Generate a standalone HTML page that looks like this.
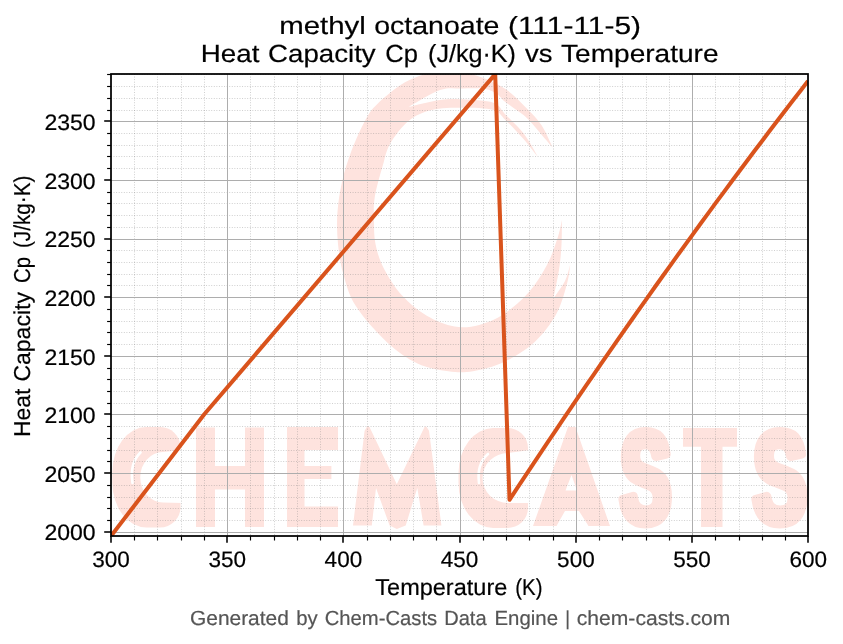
<!DOCTYPE html>
<html><head><meta charset="utf-8"><title>methyl octanoate Cp</title>
<style>html,body{margin:0;padding:0;background:#fff;width:843px;height:644px;overflow:hidden}svg{display:block;position:absolute;left:0;top:0;will-change:transform}text{font-family:"Liberation Sans",sans-serif}</style>
</head><body>
<svg width="843" height="644" viewBox="0 0 843 644" text-rendering="geometricPrecision">
<defs><clipPath id="ax"><rect x="111.0" y="74.0" width="697.0" height="462.0"/></clipPath></defs>
<filter id="soft" x="-5%" y="-5%" width="110%" height="110%"><feGaussianBlur stdDeviation="0.7"/></filter>
<g clip-path="url(#ax)"><g filter="url(#soft)">
<path d="M552.8,147.8 C550.9,144.0 545.8,131.6 541.4,125.0 C537.0,118.4 532.3,114.0 526.3,108.0 C520.3,102.0 513.6,94.4 505.4,89.0 C497.2,83.6 486.2,78.7 477.0,75.7 C467.8,72.7 457.3,71.6 450.0,71.0 C442.7,70.4 440.5,70.1 433.0,72.0 C425.5,73.9 414.3,77.0 405.0,82.3 C395.7,87.6 384.0,97.6 377.4,103.9 C370.8,110.2 369.7,112.2 365.4,120.0 C361.1,127.8 355.3,140.7 351.4,151.0 C347.5,161.3 344.3,171.7 342.0,182.0 C339.7,192.3 338.1,202.7 337.4,213.0 C336.7,223.3 337.0,233.6 338.0,244.0 C339.0,254.4 340.6,264.9 343.6,275.3 C346.6,285.7 348.8,295.2 356.0,306.3 C363.2,317.4 376.4,332.4 386.7,341.9 C396.9,351.4 407.2,358.6 417.5,363.5 C427.8,368.4 439.1,369.9 448.4,371.2 C457.6,372.5 463.8,372.7 473.0,371.2 C482.2,369.7 493.6,366.9 503.9,362.0 C514.2,357.1 526.0,349.9 534.7,341.9 C543.4,333.9 550.9,323.8 556.3,314.0 C561.7,304.2 564.8,291.5 567.1,283.3 C569.4,275.1 569.7,267.9 570.2,264.8 C569.3,267.5 567.8,275.4 565.0,281.0 C562.2,286.6 555.2,295.8 553.3,298.7 C554.2,293.9 557.6,278.9 559.0,270.0 C560.4,261.1 561.0,253.3 561.5,245.0 C562.0,236.7 561.8,224.2 561.9,220.0 C561.2,222.8 560.4,229.5 557.9,237.0 C555.4,244.5 552.0,255.6 547.1,264.8 C542.2,274.1 535.8,284.3 528.6,292.5 C521.4,300.7 512.1,308.6 503.9,314.0 C495.7,319.4 487.4,322.8 479.2,324.9 C471.0,327.0 463.2,328.0 454.5,326.5 C445.8,325.0 435.5,320.8 426.8,315.7 C418.1,310.6 409.3,303.6 402.1,295.6 C394.9,287.6 388.0,276.5 383.6,267.9 C379.2,259.3 377.1,251.8 375.5,244.0 C373.9,236.2 374.1,228.7 374.0,221.0 C373.9,213.3 373.3,206.7 374.7,197.6 C376.1,188.5 379.9,175.5 382.5,166.6 C385.1,157.7 385.7,151.6 390.0,144.0 C394.3,136.4 401.6,126.7 408.5,121.0 C415.4,115.3 422.7,112.2 431.7,110.0 C440.7,107.8 452.2,107.8 462.5,107.8 C472.8,107.8 486.2,108.0 493.4,110.0 C500.5,112.0 500.2,115.0 505.4,120.0 C510.6,125.0 518.9,133.7 524.4,140.0 C529.9,146.3 536.2,155.0 538.6,158.0 C536.2,154.1 529.9,141.7 524.4,134.5 C518.9,127.3 510.6,119.9 505.4,114.6 C500.2,109.3 500.5,105.3 493.4,102.8 C486.2,100.2 471.4,99.8 462.5,99.3 C453.6,98.8 449.0,98.7 440.0,100.0 C431.0,101.3 413.8,105.8 408.5,107.0 C413.8,104.2 431.0,93.1 440.0,90.0 C449.0,86.9 455.0,88.7 462.5,88.5 C470.0,88.3 479.2,88.1 485.0,89.0 C490.8,89.9 493.6,91.8 497.0,94.0 C500.4,96.2 500.5,98.1 505.4,102.0 C510.3,105.9 520.3,112.0 526.3,117.4 C532.3,122.8 537.0,129.4 541.4,134.5 C545.8,139.6 550.9,145.6 552.8,147.8Z" fill="#fee3de"/>
<path d="M146.4,427 L160.0,427 A20.5,20.1 0 0 1 180.5,447.1 L180.5,507.4 A20.5,20.1 0 0 1 160.0,527.5 L146.4,527.5 A34.1,45.2 0 0 1 112.3,482.3 L112.3,472.2 A34.1,45.2 0 0 1 146.4,427Z" fill="#fee3de"/><path d="M182.5,450 L162.8,452.0 A22.5,25.2 0 0 0 162.8,502.5 L182.5,503Z" fill="#fff"/>
<path d="M140.5,452.5 Q129.5,463 132.5,483" fill="none" stroke="#fff" stroke-width="2.6" stroke-linecap="round"/>
<path d="M196.0,427.6 L215.0,427.6 L215.0,527.0 L196.0,527.0ZM245.0,427.6 L264.0,427.6 L264.0,527.0 L245.0,527.0ZM214.0,466.0 L246.0,466.0 L246.0,489.5 L214.0,489.5Z" fill="#fee3de"/>
<path d="M287.0,427.0 L304.5,427.0 L304.5,527.0 L287.0,527.0ZM304.0,427.0 L338.0,427.0 L338.0,450.0 L304.0,450.0ZM304.0,466.0 L331.4,466.0 L331.4,479.0 L304.0,479.0ZM304.0,506.6 L338.0,506.6 L338.0,527.0 L304.0,527.0Z" fill="#fee3de"/>
<path d="M353.0,525.4 L364.6,430.7 L367.3,426.3 L369.5,427.0 L396.8,484.3 L424.5,427.0 L426.3,426.5 L429.0,430.7 L441.4,525.4 L423.6,525.4 L417.3,488.0 L405.7,525.4 L396.8,529.0 L389.6,525.4 L376.0,488.0 L371.8,525.4Z" fill="#fee3de"/>
<path d="M493.2,428 L507.1,428 A20.8,20.0 0 0 1 528.0,448.0 L528.0,508.0 A20.8,20.0 0 0 1 507.1,528 L493.2,528 A34.8,45.0 0 0 1 458.5,483.0 L458.5,473.0 A34.8,45.0 0 0 1 493.2,428Z" fill="#fee3de"/><path d="M530.0,450 L508.0,453.0 A25.5,25.0 0 0 0 508.0,503.0 L530.0,503Z" fill="#fff"/>
<path d="M488,454 Q476.5,464 479,483" fill="none" stroke="#fff" stroke-width="2.6" stroke-linecap="round"/>
<path d="M568.0,427.0 L575.5,427.0 L610.0,526.0 L588.5,526.0 L579.0,511.0 L565.0,511.0 L556.5,526.0 L533.0,526.0ZM571.5,475.0 L577.0,490.5 L565.5,490.5Z" fill="#fee3de" fill-rule="evenodd"/>
<path d="M667.5 496.8Q667.5 510.0 661.9 517.0Q656.3 524.0 645.5 524.0Q635.7 524.0 630.1 517.9Q624.5 511.8 622.9 499.3L633.3 496.3Q634.3 503.5 637.4 506.7Q640.4 509.9 645.8 509.9Q657.1 509.9 657.1 497.9Q657.1 494.1 655.8 491.6Q654.5 489.1 652.1 487.4Q649.8 485.8 643.1 483.4Q637.4 481.1 635.1 479.6Q632.9 478.2 631.1 476.3Q629.3 474.3 628.0 471.6Q626.7 468.8 626.0 465.1Q625.3 461.4 625.3 456.6Q625.3 444.5 630.5 438.0Q635.7 431.5 645.7 431.5Q655.2 431.5 660.0 436.7Q664.8 442.0 666.2 454.0L655.8 456.5Q655.0 450.7 652.5 447.8Q650.1 444.8 645.5 444.8Q635.7 444.8 635.7 455.6Q635.7 459.1 636.8 461.3Q637.8 463.5 639.8 465.1Q641.9 466.7 648.1 469.0Q655.5 471.8 658.6 474.1Q661.8 476.4 663.7 479.5Q665.5 482.6 666.5 486.9Q667.5 491.2 667.5 496.8Z" fill="#fee3de" stroke="#fee3de" stroke-width="9" stroke-linejoin="round"/>
<path d="M803.0 496.8Q803.0 510.0 797.1 517.0Q791.2 524.0 779.8 524.0Q769.4 524.0 763.5 517.9Q757.6 511.8 755.9 499.3L766.8 496.3Q768.0 503.5 771.2 506.7Q774.4 509.9 780.1 509.9Q792.0 509.9 792.0 497.9Q792.0 494.1 790.6 491.6Q789.3 489.1 786.8 487.4Q784.3 485.8 777.3 483.4Q771.2 481.1 768.8 479.6Q766.5 478.2 764.5 476.3Q762.6 474.3 761.3 471.6Q759.9 468.8 759.2 465.1Q758.4 461.4 758.4 456.6Q758.4 444.5 763.9 438.0Q769.5 431.5 780.0 431.5Q790.0 431.5 795.1 436.7Q800.1 442.0 801.6 454.0L790.6 456.5Q789.8 450.7 787.2 447.8Q784.6 444.8 779.7 444.8Q769.5 444.8 769.5 455.6Q769.5 459.1 770.5 461.3Q771.6 463.5 773.8 465.1Q775.9 466.7 782.5 469.0Q790.3 471.8 793.7 474.1Q797.0 476.4 799.0 479.5Q800.9 482.6 802.0 486.9Q803.0 491.2 803.0 496.8Z" fill="#fee3de" stroke="#fee3de" stroke-width="9" stroke-linejoin="round"/>
<path d="M683.0,428.0 L737.0,428.0 L737.0,446.8 L683.0,446.8ZM701.0,446.0 L722.5,446.0 L722.5,527.0 L701.0,527.0Z" fill="#fee3de"/>
</g></g>
<g stroke="#808080" stroke-opacity="0.4" stroke-width="0.97" stroke-dasharray="0.97 1.6" fill="none">
<line x1="134.50" y1="74.0" x2="134.50" y2="536.0"/>
<line x1="157.50" y1="74.0" x2="157.50" y2="536.0"/>
<line x1="181.50" y1="74.0" x2="181.50" y2="536.0"/>
<line x1="204.50" y1="74.0" x2="204.50" y2="536.0"/>
<line x1="250.50" y1="74.0" x2="250.50" y2="536.0"/>
<line x1="274.50" y1="74.0" x2="274.50" y2="536.0"/>
<line x1="297.50" y1="74.0" x2="297.50" y2="536.0"/>
<line x1="320.50" y1="74.0" x2="320.50" y2="536.0"/>
<line x1="367.50" y1="74.0" x2="367.50" y2="536.0"/>
<line x1="390.50" y1="74.0" x2="390.50" y2="536.0"/>
<line x1="413.50" y1="74.0" x2="413.50" y2="536.0"/>
<line x1="436.50" y1="74.0" x2="436.50" y2="536.0"/>
<line x1="483.50" y1="74.0" x2="483.50" y2="536.0"/>
<line x1="506.50" y1="74.0" x2="506.50" y2="536.0"/>
<line x1="529.50" y1="74.0" x2="529.50" y2="536.0"/>
<line x1="553.50" y1="74.0" x2="553.50" y2="536.0"/>
<line x1="599.50" y1="74.0" x2="599.50" y2="536.0"/>
<line x1="622.50" y1="74.0" x2="622.50" y2="536.0"/>
<line x1="646.50" y1="74.0" x2="646.50" y2="536.0"/>
<line x1="669.50" y1="74.0" x2="669.50" y2="536.0"/>
<line x1="715.50" y1="74.0" x2="715.50" y2="536.0"/>
<line x1="739.50" y1="74.0" x2="739.50" y2="536.0"/>
<line x1="762.50" y1="74.0" x2="762.50" y2="536.0"/>
<line x1="785.50" y1="74.0" x2="785.50" y2="536.0"/>
<line x1="111.0" y1="520.50" x2="808.0" y2="520.50"/>
<line x1="111.0" y1="508.50" x2="808.0" y2="508.50"/>
<line x1="111.0" y1="497.50" x2="808.0" y2="497.50"/>
<line x1="111.0" y1="485.50" x2="808.0" y2="485.50"/>
<line x1="111.0" y1="461.50" x2="808.0" y2="461.50"/>
<line x1="111.0" y1="450.50" x2="808.0" y2="450.50"/>
<line x1="111.0" y1="438.50" x2="808.0" y2="438.50"/>
<line x1="111.0" y1="426.50" x2="808.0" y2="426.50"/>
<line x1="111.0" y1="403.50" x2="808.0" y2="403.50"/>
<line x1="111.0" y1="391.50" x2="808.0" y2="391.50"/>
<line x1="111.0" y1="379.50" x2="808.0" y2="379.50"/>
<line x1="111.0" y1="368.50" x2="808.0" y2="368.50"/>
<line x1="111.0" y1="344.50" x2="808.0" y2="344.50"/>
<line x1="111.0" y1="332.50" x2="808.0" y2="332.50"/>
<line x1="111.0" y1="321.50" x2="808.0" y2="321.50"/>
<line x1="111.0" y1="309.50" x2="808.0" y2="309.50"/>
<line x1="111.0" y1="285.50" x2="808.0" y2="285.50"/>
<line x1="111.0" y1="274.50" x2="808.0" y2="274.50"/>
<line x1="111.0" y1="262.50" x2="808.0" y2="262.50"/>
<line x1="111.0" y1="250.50" x2="808.0" y2="250.50"/>
<line x1="111.0" y1="227.50" x2="808.0" y2="227.50"/>
<line x1="111.0" y1="215.50" x2="808.0" y2="215.50"/>
<line x1="111.0" y1="203.50" x2="808.0" y2="203.50"/>
<line x1="111.0" y1="192.50" x2="808.0" y2="192.50"/>
<line x1="111.0" y1="168.50" x2="808.0" y2="168.50"/>
<line x1="111.0" y1="156.50" x2="808.0" y2="156.50"/>
<line x1="111.0" y1="145.50" x2="808.0" y2="145.50"/>
<line x1="111.0" y1="133.50" x2="808.0" y2="133.50"/>
<line x1="111.0" y1="110.50" x2="808.0" y2="110.50"/>
<line x1="111.0" y1="98.50" x2="808.0" y2="98.50"/>
<line x1="111.0" y1="86.50" x2="808.0" y2="86.50"/>
<line x1="111.0" y1="74.50" x2="808.0" y2="74.50"/>
</g>
<g stroke="#adadad" stroke-width="1" fill="none">
<line x1="227.50" y1="74.0" x2="227.50" y2="536.0"/>
<line x1="343.50" y1="74.0" x2="343.50" y2="536.0"/>
<line x1="460.50" y1="74.0" x2="460.50" y2="536.0"/>
<line x1="576.50" y1="74.0" x2="576.50" y2="536.0"/>
<line x1="692.50" y1="74.0" x2="692.50" y2="536.0"/>
<line x1="111.0" y1="532.50" x2="808.0" y2="532.50"/>
<line x1="111.0" y1="473.50" x2="808.0" y2="473.50"/>
<line x1="111.0" y1="414.50" x2="808.0" y2="414.50"/>
<line x1="111.0" y1="356.50" x2="808.0" y2="356.50"/>
<line x1="111.0" y1="297.50" x2="808.0" y2="297.50"/>
<line x1="111.0" y1="239.50" x2="808.0" y2="239.50"/>
<line x1="111.0" y1="180.50" x2="808.0" y2="180.50"/>
<line x1="111.0" y1="121.50" x2="808.0" y2="121.50"/>
</g>
<path d="M111.05,536.00 L204.30,414.30 L495.20,74.10 L509.50,499.80 L517.15,488.18 L524.81,476.60 L532.46,465.08 L540.12,453.60 L547.77,442.16 L555.42,430.78 L563.08,419.44 L570.73,408.15 L578.38,396.90 L586.04,385.71 L593.69,374.55 L601.35,363.45 L609.00,352.39 L616.65,341.38 L624.31,330.41 L631.96,319.50 L639.62,308.62 L647.27,297.80 L654.92,287.02 L662.58,276.28 L670.23,265.59 L677.88,254.95 L685.54,244.36 L693.19,233.81 L700.85,223.30 L708.50,212.84 L716.15,202.43 L723.81,192.07 L731.46,181.74 L739.12,171.47 L746.77,161.24 L754.42,151.06 L762.08,140.92 L769.73,130.83 L777.38,120.78 L785.04,110.78 L792.69,100.82 L800.35,90.91 L808.00,81.05" fill="none" stroke="#d9531c" stroke-width="4.0" stroke-linejoin="round" stroke-linecap="butt" clip-path="url(#ax)"/>
<rect x="111.0" y="74.0" width="697.0" height="462.0" fill="none" stroke="#000" stroke-width="1.75"/>
<g stroke="#000" stroke-width="1.56">
<line x1="111.00" y1="536.0" x2="111.00" y2="542.8"/>
<line x1="227.00" y1="536.0" x2="227.00" y2="542.8"/>
<line x1="343.00" y1="536.0" x2="343.00" y2="542.8"/>
<line x1="460.00" y1="536.0" x2="460.00" y2="542.8"/>
<line x1="576.00" y1="536.0" x2="576.00" y2="542.8"/>
<line x1="692.00" y1="536.0" x2="692.00" y2="542.8"/>
<line x1="808.00" y1="536.0" x2="808.00" y2="542.8"/>
<line x1="111.0" y1="532.00" x2="104.2" y2="532.00"/>
<line x1="111.0" y1="473.00" x2="104.2" y2="473.00"/>
<line x1="111.0" y1="414.00" x2="104.2" y2="414.00"/>
<line x1="111.0" y1="356.00" x2="104.2" y2="356.00"/>
<line x1="111.0" y1="297.00" x2="104.2" y2="297.00"/>
<line x1="111.0" y1="239.00" x2="104.2" y2="239.00"/>
<line x1="111.0" y1="180.00" x2="104.2" y2="180.00"/>
<line x1="111.0" y1="121.00" x2="104.2" y2="121.00"/>
</g>
<g stroke="#000" stroke-width="1.15">
<line x1="134.50" y1="536.0" x2="134.50" y2="540.5"/>
<line x1="157.50" y1="536.0" x2="157.50" y2="540.5"/>
<line x1="181.50" y1="536.0" x2="181.50" y2="540.5"/>
<line x1="204.50" y1="536.0" x2="204.50" y2="540.5"/>
<line x1="250.50" y1="536.0" x2="250.50" y2="540.5"/>
<line x1="274.50" y1="536.0" x2="274.50" y2="540.5"/>
<line x1="297.50" y1="536.0" x2="297.50" y2="540.5"/>
<line x1="320.50" y1="536.0" x2="320.50" y2="540.5"/>
<line x1="367.50" y1="536.0" x2="367.50" y2="540.5"/>
<line x1="390.50" y1="536.0" x2="390.50" y2="540.5"/>
<line x1="413.50" y1="536.0" x2="413.50" y2="540.5"/>
<line x1="436.50" y1="536.0" x2="436.50" y2="540.5"/>
<line x1="483.50" y1="536.0" x2="483.50" y2="540.5"/>
<line x1="506.50" y1="536.0" x2="506.50" y2="540.5"/>
<line x1="529.50" y1="536.0" x2="529.50" y2="540.5"/>
<line x1="553.50" y1="536.0" x2="553.50" y2="540.5"/>
<line x1="599.50" y1="536.0" x2="599.50" y2="540.5"/>
<line x1="622.50" y1="536.0" x2="622.50" y2="540.5"/>
<line x1="646.50" y1="536.0" x2="646.50" y2="540.5"/>
<line x1="669.50" y1="536.0" x2="669.50" y2="540.5"/>
<line x1="715.50" y1="536.0" x2="715.50" y2="540.5"/>
<line x1="739.50" y1="536.0" x2="739.50" y2="540.5"/>
<line x1="762.50" y1="536.0" x2="762.50" y2="540.5"/>
<line x1="785.50" y1="536.0" x2="785.50" y2="540.5"/>
<line x1="111.0" y1="520.50" x2="107.1" y2="520.50"/>
<line x1="111.0" y1="508.50" x2="107.1" y2="508.50"/>
<line x1="111.0" y1="497.50" x2="107.1" y2="497.50"/>
<line x1="111.0" y1="485.50" x2="107.1" y2="485.50"/>
<line x1="111.0" y1="461.50" x2="107.1" y2="461.50"/>
<line x1="111.0" y1="450.50" x2="107.1" y2="450.50"/>
<line x1="111.0" y1="438.50" x2="107.1" y2="438.50"/>
<line x1="111.0" y1="426.50" x2="107.1" y2="426.50"/>
<line x1="111.0" y1="403.50" x2="107.1" y2="403.50"/>
<line x1="111.0" y1="391.50" x2="107.1" y2="391.50"/>
<line x1="111.0" y1="379.50" x2="107.1" y2="379.50"/>
<line x1="111.0" y1="368.50" x2="107.1" y2="368.50"/>
<line x1="111.0" y1="344.50" x2="107.1" y2="344.50"/>
<line x1="111.0" y1="332.50" x2="107.1" y2="332.50"/>
<line x1="111.0" y1="321.50" x2="107.1" y2="321.50"/>
<line x1="111.0" y1="309.50" x2="107.1" y2="309.50"/>
<line x1="111.0" y1="285.50" x2="107.1" y2="285.50"/>
<line x1="111.0" y1="274.50" x2="107.1" y2="274.50"/>
<line x1="111.0" y1="262.50" x2="107.1" y2="262.50"/>
<line x1="111.0" y1="250.50" x2="107.1" y2="250.50"/>
<line x1="111.0" y1="227.50" x2="107.1" y2="227.50"/>
<line x1="111.0" y1="215.50" x2="107.1" y2="215.50"/>
<line x1="111.0" y1="203.50" x2="107.1" y2="203.50"/>
<line x1="111.0" y1="192.50" x2="107.1" y2="192.50"/>
<line x1="111.0" y1="168.50" x2="107.1" y2="168.50"/>
<line x1="111.0" y1="156.50" x2="107.1" y2="156.50"/>
<line x1="111.0" y1="145.50" x2="107.1" y2="145.50"/>
<line x1="111.0" y1="133.50" x2="107.1" y2="133.50"/>
<line x1="111.0" y1="110.50" x2="107.1" y2="110.50"/>
<line x1="111.0" y1="98.50" x2="107.1" y2="98.50"/>
<line x1="111.0" y1="86.50" x2="107.1" y2="86.50"/>
<line x1="111.0" y1="74.50" x2="107.1" y2="74.50"/>
</g>
<text x="111.0" y="566.9" font-size="22.3" text-anchor="middle" fill="#000" stroke="#000" stroke-width="0.2" textLength="37.6" lengthAdjust="spacingAndGlyphs">300</text>
<text x="227.2" y="566.9" font-size="22.3" text-anchor="middle" fill="#000" stroke="#000" stroke-width="0.2" textLength="37.6" lengthAdjust="spacingAndGlyphs">350</text>
<text x="343.4" y="566.9" font-size="22.3" text-anchor="middle" fill="#000" stroke="#000" stroke-width="0.2" textLength="37.6" lengthAdjust="spacingAndGlyphs">400</text>
<text x="459.6" y="566.9" font-size="22.3" text-anchor="middle" fill="#000" stroke="#000" stroke-width="0.2" textLength="37.6" lengthAdjust="spacingAndGlyphs">450</text>
<text x="575.9" y="566.9" font-size="22.3" text-anchor="middle" fill="#000" stroke="#000" stroke-width="0.2" textLength="37.6" lengthAdjust="spacingAndGlyphs">500</text>
<text x="692.1" y="566.9" font-size="22.3" text-anchor="middle" fill="#000" stroke="#000" stroke-width="0.2" textLength="37.6" lengthAdjust="spacingAndGlyphs">550</text>
<text x="808.3" y="566.9" font-size="22.3" text-anchor="middle" fill="#000" stroke="#000" stroke-width="0.2" textLength="37.6" lengthAdjust="spacingAndGlyphs">600</text>
<text x="95.6" y="540.4" font-size="22.3" text-anchor="end" fill="#000" stroke="#000" stroke-width="0.2" textLength="51.2" lengthAdjust="spacingAndGlyphs">2000</text>
<text x="95.6" y="481.8" font-size="22.3" text-anchor="end" fill="#000" stroke="#000" stroke-width="0.2" textLength="51.2" lengthAdjust="spacingAndGlyphs">2050</text>
<text x="95.6" y="423.2" font-size="22.3" text-anchor="end" fill="#000" stroke="#000" stroke-width="0.2" textLength="51.2" lengthAdjust="spacingAndGlyphs">2100</text>
<text x="95.6" y="364.5" font-size="22.3" text-anchor="end" fill="#000" stroke="#000" stroke-width="0.2" textLength="51.2" lengthAdjust="spacingAndGlyphs">2150</text>
<text x="95.6" y="305.9" font-size="22.3" text-anchor="end" fill="#000" stroke="#000" stroke-width="0.2" textLength="51.2" lengthAdjust="spacingAndGlyphs">2200</text>
<text x="95.6" y="247.2" font-size="22.3" text-anchor="end" fill="#000" stroke="#000" stroke-width="0.2" textLength="51.2" lengthAdjust="spacingAndGlyphs">2250</text>
<text x="95.6" y="188.6" font-size="22.3" text-anchor="end" fill="#000" stroke="#000" stroke-width="0.2" textLength="51.2" lengthAdjust="spacingAndGlyphs">2300</text>
<text x="95.6" y="130.0" font-size="22.3" text-anchor="end" fill="#000" stroke="#000" stroke-width="0.2" textLength="51.2" lengthAdjust="spacingAndGlyphs">2350</text>
<text x="279.20" y="33.9" font-size="24.8" fill="#000" stroke="#000" stroke-width="0.2" textLength="86.70" lengthAdjust="spacingAndGlyphs">methyl</text>
<text x="374.20" y="33.9" font-size="24.8" fill="#000" stroke="#000" stroke-width="0.2" textLength="125.30" lengthAdjust="spacingAndGlyphs">octanoate</text>
<text x="508.00" y="33.9" font-size="24.8" fill="#000" stroke="#000" stroke-width="0.2" textLength="133.00" lengthAdjust="spacingAndGlyphs">(111-11-5)</text>
<text x="200.80" y="61.7" font-size="24.8" fill="#000" stroke="#000" stroke-width="0.2" textLength="58.70" lengthAdjust="spacingAndGlyphs">Heat</text>
<text x="268.10" y="61.7" font-size="24.8" fill="#000" stroke="#000" stroke-width="0.2" textLength="107.60" lengthAdjust="spacingAndGlyphs">Capacity</text>
<text x="385.30" y="61.7" font-size="24.8" fill="#000" stroke="#000" stroke-width="0.2" textLength="32.70" lengthAdjust="spacingAndGlyphs">Cp</text>
<text x="428.10" y="61.7" font-size="24.8" fill="#000" stroke="#000" stroke-width="0.2" textLength="87.90" lengthAdjust="spacingAndGlyphs">(J/kg·K)</text>
<text x="525.10" y="61.7" font-size="24.8" fill="#000" stroke="#000" stroke-width="0.2" textLength="27.40" lengthAdjust="spacingAndGlyphs">vs</text>
<text x="561.00" y="61.7" font-size="24.8" fill="#000" stroke="#000" stroke-width="0.2" textLength="157.60" lengthAdjust="spacingAndGlyphs">Temperature</text>
<text x="375.30" y="594.9" font-size="23.0" fill="#000" stroke="#000" stroke-width="0.2" textLength="132.00" lengthAdjust="spacingAndGlyphs">Temperature</text>
<text x="515.30" y="594.9" font-size="23.0" fill="#000" stroke="#000" stroke-width="0.2" textLength="27.20" lengthAdjust="spacingAndGlyphs">(K)</text>
<text x="190.00" y="624.8" font-size="20.4" fill="#555" stroke="#555" stroke-width="0.2" textLength="98.80" lengthAdjust="spacingAndGlyphs">Generated</text>
<text x="296.30" y="624.8" font-size="20.4" fill="#555" stroke="#555" stroke-width="0.2" textLength="21.50" lengthAdjust="spacingAndGlyphs">by</text>
<text x="324.70" y="624.8" font-size="20.4" fill="#555" stroke="#555" stroke-width="0.2" textLength="112.50" lengthAdjust="spacingAndGlyphs">Chem-Casts</text>
<text x="444.20" y="624.8" font-size="20.4" fill="#555" stroke="#555" stroke-width="0.2" textLength="42.40" lengthAdjust="spacingAndGlyphs">Data</text>
<text x="494.50" y="624.8" font-size="20.4" fill="#555" stroke="#555" stroke-width="0.2" textLength="63.50" lengthAdjust="spacingAndGlyphs">Engine</text>
<text x="576.80" y="624.8" font-size="20.4" fill="#555" stroke="#555" stroke-width="0.2" textLength="153.50" lengthAdjust="spacingAndGlyphs">chem-casts.com</text>
<text transform="translate(30.4,437.10) rotate(-90)" font-size="23.0" fill="#000" stroke="#000" stroke-width="0.2" textLength="48.60" lengthAdjust="spacingAndGlyphs">Heat</text>
<text transform="translate(30.4,381.60) rotate(-90)" font-size="23.0" fill="#000" stroke="#000" stroke-width="0.2" textLength="89.50" lengthAdjust="spacingAndGlyphs">Capacity</text>
<text transform="translate(30.4,283.00) rotate(-90)" font-size="23.0" fill="#000" stroke="#000" stroke-width="0.2" textLength="26.10" lengthAdjust="spacingAndGlyphs">Cp</text>
<text transform="translate(30.4,248.10) rotate(-90)" font-size="23.0" fill="#000" stroke="#000" stroke-width="0.2" textLength="72.50" lengthAdjust="spacingAndGlyphs">(J/kg·K)</text>
<rect x="566.7" y="610.3" width="1.8" height="19" fill="#555"/>
</svg>
</body></html>
